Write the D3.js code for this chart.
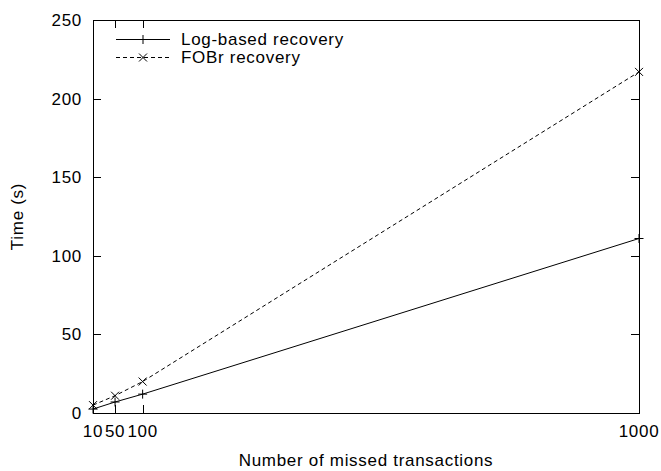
<!DOCTYPE html>
<html>
<head>
<meta charset="UTF-8">
<title>Recovery time</title>
<script src="https://d3js.org/d3.v7.min.js"></script>
<style>
  body { margin:0; background:#fff; }
  text { font-family: "Liberation Sans", Arial, sans-serif; font-size:17px; letter-spacing:0.7px; fill:#000; }
</style>
</head>
<body>
<div id="chart"></div>
<script>
// data
const missed = [10, 50, 100, 1000];
const logBased = [2.5, 7, 12, 111];
const fobr = [5, 11, 20, 217];
const xTicks = [10, 50, 100, 1000];
const yTicks = [0, 50, 100, 150, 200, 250];
const seriesNames = ['Log-based recovery', 'FOBr recovery'];

const W = 661, H = 471;
const margin = {top:20, right:22, bottom:58, left:93};
const width = W - margin.left - margin.right,
      height = H - margin.top - margin.bottom;

const svg = d3.select('#chart').append('svg')
  .attr('width', W).attr('height', H);
const g = svg.append('g').attr('transform', `translate(${margin.left},${margin.top})`);

const x = d3.scaleLinear().domain([10, 1000]).range([0, width]);
const y = d3.scaleLinear().domain([0, 250]).range([height, 0]);

const tickLen = 8;

// ticks (inward, mirrored)
const tg = g.append('g').attr('stroke', '#000').attr('stroke-width', 1);
xTicks.forEach(t => {
  const px = Math.round(x(t)) + 0.5;
  tg.append('line').attr('x1', px).attr('x2', px).attr('y1', height).attr('y2', height - tickLen);
  tg.append('line').attr('x1', px).attr('x2', px).attr('y1', 0).attr('y2', tickLen);
});
yTicks.forEach(t => {
  const py = Math.round(y(t)) + 0.5;
  tg.append('line').attr('x1', 0).attr('x2', tickLen).attr('y1', py).attr('y2', py);
  tg.append('line').attr('x1', width).attr('x2', width - tickLen).attr('y1', py).attr('y2', py);
});

// tick labels
g.selectAll('text.xt').data(xTicks).enter().append('text')
  .attr('class', 'xt')
  .attr('x', d => x(d)).attr('y', height + 24)
  .attr('text-anchor', 'middle')
  .text(d => d);
g.selectAll('text.yt').data(yTicks).enter().append('text')
  .attr('class', 'yt')
  .attr('x', -11).attr('y', d => y(d) + 6)
  .attr('text-anchor', 'end')
  .text(d => d);

// frame
g.append('rect').attr('x', 0.5).attr('y', 0.5).attr('width', width).attr('height', height)
  .attr('fill', 'none').attr('stroke', '#000').attr('stroke-width', 1);

// axis titles
svg.append('text').attr('x', margin.left + width / 2).attr('y', 466)
  .attr('text-anchor', 'middle').text('Number of missed transactions');
svg.append('text').attr('transform', `translate(23,${margin.top + height / 2}) rotate(-90)`)
  .attr('text-anchor', 'middle').text('Time (s)');

function plusMark(sel, cx, cy) {
  const s = 4.5;
  sel.append('path').attr('d', `M${cx - s},${cy}H${cx + s}M${cx},${cy - s}V${cy + s}`)
    .attr('stroke', '#000').attr('stroke-width', 1).attr('fill', 'none');
}
function crossMark(sel, cx, cy) {
  const s = 4;
  sel.append('path').attr('d', `M${cx - s},${cy - s}L${cx + s},${cy + s}M${cx - s},${cy + s}L${cx + s},${cy - s}`)
    .attr('stroke', '#000').attr('stroke-width', 1).attr('fill', 'none');
}

const series = [
  {name: seriesNames[0], values: logBased, dash: null, mark: plusMark},
  {name: seriesNames[1], values: fobr, dash: '4,3', mark: crossMark}
];

const line = d3.line().x(d => x(d[0])).y(d => y(d[1]));

series.forEach(s => {
  const pts = missed.map((m, i) => [m, s.values[i]]);
  g.append('path').datum(pts)
    .attr('d', line)
    .attr('fill', 'none').attr('stroke', '#000').attr('stroke-width', 1)
    .attr('stroke-dasharray', s.dash);
  pts.forEach(p => s.mark(g, x(p[0]), y(p[1])));
});

// legend
const lg = svg.append('g');
series.forEach((s, i) => {
  const ly = 39 + i * 18;
  lg.append('line').attr('x1', 116).attr('x2', 170).attr('y1', ly + 0.5).attr('y2', ly + 0.5)
    .attr('stroke', '#000').attr('stroke-width', 1).attr('stroke-dasharray', s.dash);
  s.mark(lg, 143, ly + 0.5);
  lg.append('text').attr('x', 181).attr('y', ly + 6).text(s.name);
});
</script>
</body>
</html>
